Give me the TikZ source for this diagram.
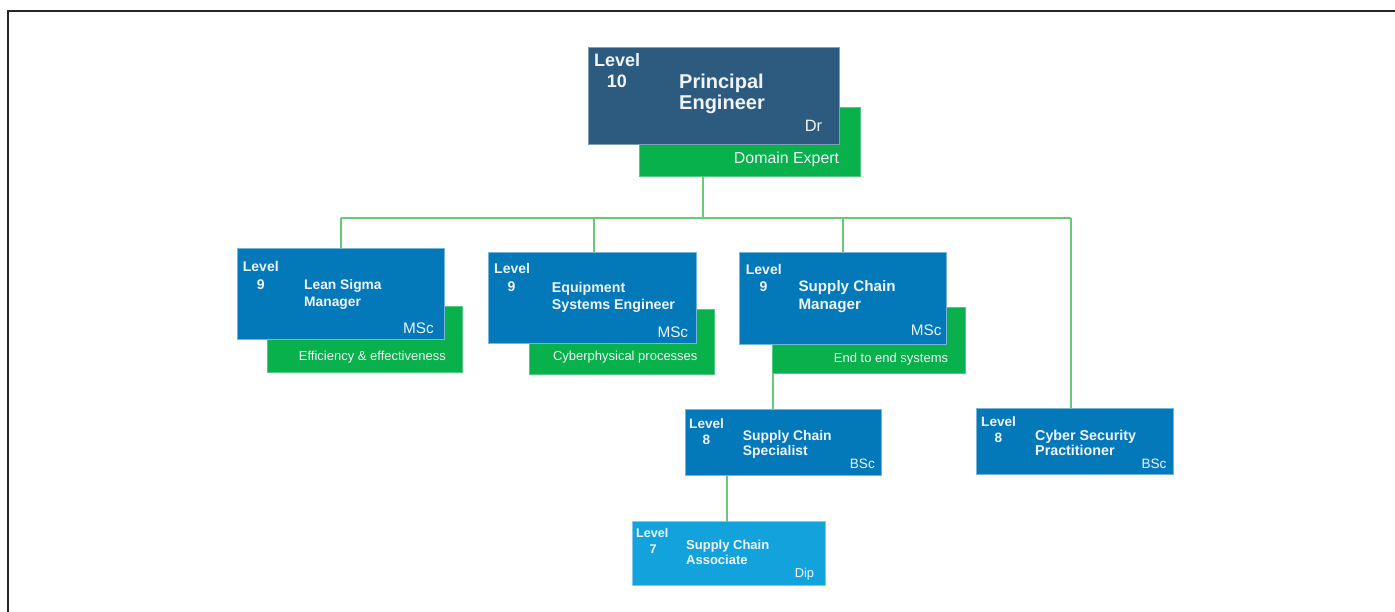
\documentclass[tikz,border=0pt]{standalone}
\usepackage{fontspec}
\setmainfont{Liberation Sans}
\newcommand{\fsz}[1]{\fontsize{#1}{#1}\selectfont}
\definecolor{darkbox}{RGB}{45,91,128}
\definecolor{midbox}{RGB}{4,121,186}
\definecolor{greenbox}{RGB}{8,177,75}
\definecolor{lightbox}{RGB}{18,163,220}
\definecolor{linkgreen}{RGB}{104,202,120}
\definecolor{txt}{RGB}{240,244,248}
\tikzset{
  boxbase/.style={anchor=north west, inner sep=0pt, outer sep=0pt},
  darkcard/.style={boxbase, fill=darkbox, draw=darkbox!60!white, line width=0.7pt},
  bluecard/.style={boxbase, fill=midbox, draw=midbox!55!white, line width=0.7pt},
  lightcard/.style={boxbase, fill=lightbox, draw=lightbox!55!white, line width=0.7pt},
  greencard/.style={boxbase, fill=greenbox, draw=greenbox!70!white, line width=0.5pt},
  lt/.style={anchor=base west, inner sep=0pt, text=txt},
  rt/.style={anchor=base east, inner sep=0pt, text=txt},
  link/.style={draw=linkgreen, line width=2pt},
}
\begin{document}
\begin{tikzpicture}[x=1pt,y=-1pt]
\useasboundingbox (0,0) rectangle (1395,612);
\fill[white] (0,0) rectangle (1395,612);
\draw[line width=2.2pt, black!85] (8,612) -- (8,11) -- (1395,11);

% ---------- connector junctions
\coordinate (hub) at (703,218);
\coordinate (j1) at (341,218);
\coordinate (j2) at (594,218);
\coordinate (j3) at (843,218);
\coordinate (j4) at (1071,218);
\coordinate (k0) at (773,373);
\coordinate (k1) at (727,475);

% ---------- Level 10
\node[greencard, minimum width=221pt, minimum height=69pt] (peg) at (639,107.7) {};
\node[darkcard, minimum width=251pt, minimum height=96.7pt] (pe) at (588.3,47.3) {};
\node[lt, font=\fsz{18}\bfseries] (pel) at (594,67) {Level};
\node[lt, font=\fsz{18}\bfseries] (pen) at (606.7,87.7) {10};
\node[lt, font=\fsz{20}\bfseries] (pet1) at (679,88.3) {Principal};
\node[lt, font=\fsz{20}\bfseries] (pet2) at (679,110) {Engineer};
\node[rt, font=\fsz{16.4}] (ped) at (822.3,131.7) {Dr};
\node[rt, font=\fsz{15.9}] (pex) at (839.3,163.3) {Domain Expert};

% ---------- Level 9 : Lean Sigma
\node[greencard, minimum width=195pt, minimum height=66.3pt] (lsg) at (267.3,306) {};
\node[bluecard, minimum width=207pt, minimum height=91pt] (ls) at (237.3,248.3) {};
\node[lt, font=\fsz{14}\bfseries] (lsl) at (242.7,271.7) {Level};
\node[lt, font=\fsz{14}\bfseries] (lsn) at (256.7,289.3) {9};
\node[lt, font=\fsz{13.8}\bfseries] (lst1) at (304,289.3) {Lean Sigma};
\node[lt, font=\fsz{13.8}\bfseries] (lst2) at (304,306.7) {Manager};
\node[rt, font=\fsz{15.3}] (lsd) at (434,333.3) {MSc};
\node[rt, font=\fsz{13}] (lsx) at (446,360) {Efficiency \& effectiveness};

% ---------- Level 9 : Equipment Systems Engineer
\node[greencard, minimum width=185pt, minimum height=65pt] (eqg) at (529,309) {};
\node[bluecard, minimum width=207.7pt, minimum height=91pt] (eq) at (488.3,252.3) {};
\node[lt, font=\fsz{14}\bfseries] (eql) at (494,274) {Level};
\node[lt, font=\fsz{14}\bfseries] (eqn) at (507.3,291.7) {9};
\node[lt, font=\fsz{14.2}\bfseries] (eqt1) at (551.7,292.3) {Equipment};
\node[lt, font=\fsz{14.2}\bfseries] (eqt2) at (551.7,310) {Systems Engineer};
\node[rt, font=\fsz{15.3}] (eqd) at (688.3,337.3) {MSc};
\node[rt, font=\fsz{13}] (eqx) at (697.7,360) {Cyberphysical processes};

% ---------- Level 9 : Supply Chain Manager
\node[greencard, minimum width=192.3pt, minimum height=65.6pt] (smg) at (772.7,307.7) {};
\node[bluecard, minimum width=207.4pt, minimum height=91.7pt] (sm) at (739.3,252.3) {};
\node[lt, font=\fsz{14}\bfseries] (sml) at (745.7,274.3) {Level};
\node[lt, font=\fsz{14}\bfseries] (smn) at (759.3,291.7) {9};
\node[lt, font=\fsz{15.2}\bfseries] (smt1) at (798.3,291.7) {Supply Chain};
\node[lt, font=\fsz{15.2}\bfseries] (smt2) at (798.3,310) {Manager};
\node[rt, font=\fsz{15.3}] (smd) at (941.7,335.7) {MSc};
\node[rt, font=\fsz{13}] (smx) at (948.3,362.3) {End to end systems};

% ---------- Level 8 : Supply Chain Specialist
\node[bluecard, minimum width=196.7pt, minimum height=66pt] (ss) at (685,409.3) {};
\node[lt, font=\fsz{13.6}\bfseries] (ssl) at (689,428.3) {Level};
\node[lt, font=\fsz{13.6}\bfseries] (ssn) at (702.3,444.3) {8};
\node[lt, font=\fsz{13.9}\bfseries] (sst1) at (742.7,440) {Supply Chain};
\node[lt, font=\fsz{13.9}\bfseries] (sst2) at (742.7,455.7) {Specialist};
\node[rt, font=\fsz{13.6}] (ssd) at (875,468.3) {BSc};

% ---------- Level 8 : Cyber Security Practitioner
\node[bluecard, minimum width=196.6pt, minimum height=65.7pt] (cs) at (976.7,408.3) {};
\node[lt, font=\fsz{13.6}\bfseries] (csl) at (981,426.7) {Level};
\node[lt, font=\fsz{13.6}\bfseries] (csn) at (994.3,442.7) {8};
\node[lt, font=\fsz{14.3}\bfseries] (cst1) at (1035,440) {Cyber Security};
\node[lt, font=\fsz{14.3}\bfseries] (cst2) at (1035,455.7) {Practitioner};
\node[rt, font=\fsz{13.6}] (csd) at (1166.7,468.3) {BSc};

% ---------- Level 7 : Supply Chain Associate
\node[lightcard, minimum width=192.3pt, minimum height=64pt] (sa) at (632.7,521.7) {};
\node[lt, font=\fsz{12.6}\bfseries] (sal) at (636,537.7) {Level};
\node[lt, font=\fsz{12.6}\bfseries] (san) at (649.3,553.3) {7};
\node[lt, font=\fsz{13}\bfseries] (sat1) at (686,549.3) {Supply Chain};
\node[lt, font=\fsz{13}\bfseries] (sat2) at (686,564.3) {Associate};
\node[rt, font=\fsz{12.9}] (sad) at (814.3,577.7) {Dip};

% ---------- connector lines
\draw[link] (hub |- peg.south) -- (hub);
\draw[link] (j1) -- (j4);
\draw[link] (j1) -- (j1 |- ls.north);
\draw[link] (j2) -- (j2 |- eq.north);
\draw[link] (j3) -- (j3 |- sm.north);
\draw[link] (j4) -- (j4 |- cs.north);
\draw[link] (k0 |- smg.south) -- (k0 |- ss.north);
\draw[link] (k1 |- ss.south) -- (k1 |- sa.north);
\end{tikzpicture}
\end{document}
